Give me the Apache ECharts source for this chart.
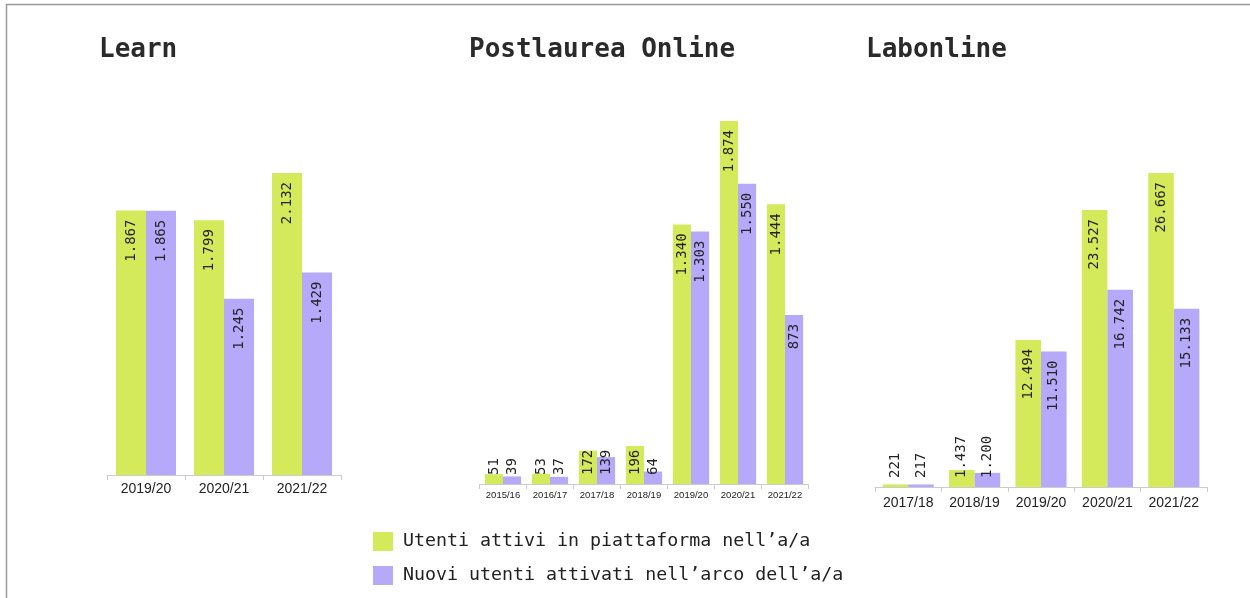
<!DOCTYPE html>
<html>
<head>
<meta charset="utf-8">
<script src="https://cdn.jsdelivr.net/npm/echarts@6/dist/echarts.min.js"></script>
<style>
html,body{margin:0;padding:0;background:#fff;}
#chart{width:1250px;height:598px;}
</style>
</head>
<body>
<div id="chart"></div>
<script>
// ---- Data ----
const seriesNames = ['Utenti attivi in piattaforma nell’a/a', 'Nuovi utenti attivati nell’arco dell’a/a'];
const titles = ['Learn', 'Postlaurea Online', 'Labonline'];

const learnCats = ['2019/20', '2020/21', '2021/22'];
const learnAttivi = [1867, 1799, 2132];
const learnNuovi = [1865, 1245, 1429];

const postCats = ['2015/16', '2016/17', '2017/18', '2018/19', '2019/20', '2020/21', '2021/22'];
const postAttivi = [51, 53, 172, 196, 1340, 1874, 1444];
const postNuovi = [39, 37, 139, 64, 1303, 1550, 873];

const labCats = ['2017/18', '2018/19', '2019/20', '2020/21', '2021/22'];
const labAttivi = [221, 1437, 12494, 23527, 26667];
const labNuovi = [217, 1200, 11510, 16742, 15133];

// ---- Styling ----
const GREEN = '#d5ea5b';
const PURPLE = '#b6a9fa';
const MONO = '"DejaVu Sans Mono", "Liberation Mono", monospace';
const SANS = '"Liberation Sans", Arial, sans-serif';

function fmt(n) {
  return String(n).replace(/\B(?=(\d{3})+(?!\d))/g, '.');
}

function makeData(vals, maxv) {
  return vals.map(v => {
    const small = v / maxv < 0.2;
    return {
      value: v,
      label: small
        ? { position: 'insideBottom', align: 'left' }
        : { position: 'insideTop', align: 'right' }
    };
  });
}

const panels = [
  { cats: learnCats, a: learnAttivi, n: learnNuovi, grid: { left: 107, top: 173, width: 234, height: 302 }, lblSize: 14, lblMargin: 7 },
  { cats: postCats, a: postAttivi, n: postNuovi, grid: { left: 479.5, top: 121, width: 329, height: 363 }, lblSize: 9.5, lblMargin: 6 },
  { cats: labCats, a: labAttivi, n: labNuovi, grid: { left: 875, top: 173, width: 332, height: 314 }, lblSize: 14, lblMargin: 9 }
];

const grids = [], xAxes = [], yAxes = [], series = [];
panels.forEach((p, i) => {
  const maxv = Math.max(...p.a, ...p.n);
  grids.push(Object.assign({ containLabel: false }, p.grid));
  xAxes.push({
    type: 'category', gridIndex: i, data: p.cats,
    axisLine: { lineStyle: { color: '#cccccc', width: 1 } },
    axisTick: { show: true, length: 5, lineStyle: { color: '#cccccc' } },
    axisLabel: { fontFamily: SANS, fontSize: p.lblSize, color: '#222', margin: p.lblMargin, interval: 0 }
  });
  yAxes.push({ type: 'value', gridIndex: i, min: 0, max: maxv, show: false, splitLine: { show: false } });
  [p.a, p.n].forEach((vals, k) => {
    series.push({
      name: seriesNames[k], type: 'bar', xAxisIndex: i, yAxisIndex: i,
      barCategoryGap: '23%', barGap: '0%',
      itemStyle: { color: k === 0 ? GREEN : PURPLE },
      label: {
        show: true, rotate: 90, verticalAlign: 'middle', distance: 9,
        fontFamily: MONO, fontSize: 14, color: '#222',
        formatter: d => fmt(d.value)
      },
      data: makeData(vals, maxv)
    });
  });
});

const chart = echarts.init(document.getElementById('chart'), null, { renderer: 'canvas' });
chart.setOption({
  animation: false,
  backgroundColor: '#ffffff',
  title: [
    { text: titles[0], left: 99, top: 37 },
    { text: titles[1], left: 469, top: 37 },
    { text: titles[2], left: 866, top: 37 }
  ].map(t => Object.assign(t, { padding: 0, textStyle: { fontFamily: MONO, fontSize: 26, fontWeight: 'bold', color: '#2a2a2a' } })),
  legend: {
    orient: 'vertical', left: 373, top: 532, padding: 0,
    itemWidth: 20, itemHeight: 19, itemGap: 15,
    icon: 'rect',
    data: seriesNames,
    textStyle: { fontFamily: MONO, fontSize: 18.3, color: '#222', padding: [0, 0, 0, 5] }
  },
  graphic: [
    { type: 'line', shape: { x1: 6, y1: 4.5, x2: 1250, y2: 4.5 }, style: { stroke: '#9a9a9a', lineWidth: 1.5 } },
    { type: 'line', shape: { x1: 6.5, y1: 4, x2: 6.5, y2: 598 }, style: { stroke: '#9a9a9a', lineWidth: 1.5 } }
  ],
  grid: grids,
  xAxis: xAxes,
  yAxis: yAxes,
  series: series
});
</script>
</body>
</html>
